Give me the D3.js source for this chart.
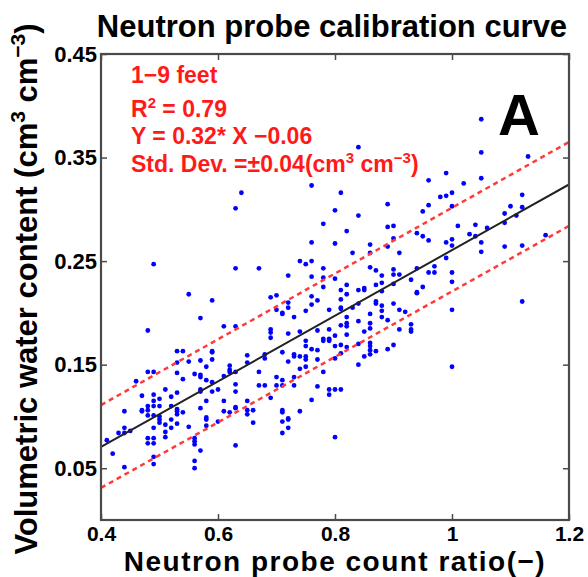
<!DOCTYPE html>
<html><head><meta charset="utf-8">
<script src="https://cdn.jsdelivr.net/npm/d3@7"></script>
<style>
html,body{margin:0;padding:0;background:#fff;}
svg{display:block;font-family:"Liberation Sans",Arial,Helvetica,sans-serif;font-weight:bold;}
</style></head>
<body>
<svg id="chart" width="588" height="577"></svg>
<script>
// ---- data ----
const xTicks = [0.4, 0.6, 0.8, 1.0, 1.2];
const xTickLabels = ["0.4", "0.6", "0.8", "1", "1.2"];
const yTicks = [0.05, 0.15, 0.25, 0.35, 0.45];
const yTickLabels = ["0.05", "0.15", "0.25", "0.35", "0.45"];
const fitX = [0.4, 1.2];
const fitY = [0.0705, 0.324];
const upperY = [0.111, 0.365];
const lowerY = [0.031, 0.284];
const annotations = ["1\u22129 feet", "R2 = 0.79", "Y = 0.32* X \u22120.06", "Std. Dev. =\u00b10.04(cm3 cm-3)"];
// [count ratio, volumetric water content]
const samples = [
[0.64,0.316],[0.63,0.301],[0.76,0.323],[0.81,0.316],[0.80,0.299],[0.78,0.286],[0.76,0.268],[0.80,0.267],
[0.49,0.247],[0.63,0.243],[0.67,0.243],[0.74,0.250],[0.75,0.247],[0.76,0.250],[0.72,0.236],[0.76,0.235],
[0.78,0.243],[0.78,0.234],[0.80,0.233],[0.78,0.225],[0.55,0.218],[0.59,0.212],[0.69,0.215],[0.70,0.217],
[0.76,0.216],[0.77,0.212],[0.72,0.210],[0.70,0.203],[0.72,0.205],[0.71,0.200],[0.71,0.199],[0.76,0.208],
[0.75,0.202],[0.79,0.203],[0.81,0.213],[0.81,0.205],[0.73,0.196],[0.57,0.195],[0.61,0.187],[0.63,0.187],
[0.48,0.183],[0.69,0.184],
[0.69,0.181],[0.69,0.176],[0.72,0.180],[0.74,0.182],[0.77,0.183],[0.78,0.175],[0.79,0.175],[0.79,0.173],
[0.78,0.173],[0.79,0.184],[0.75,0.173],[0.75,0.168],[0.76,0.165],[0.77,0.164],[0.80,0.168],[0.71,0.162],
[0.73,0.160],[0.73,0.158],[0.74,0.158],[0.75,0.158],[0.75,0.155],[0.72,0.153],[0.74,0.146],[0.75,0.148],
[0.77,0.155],[0.78,0.143],[0.68,0.160],[0.68,0.156],[0.67,0.143],[0.65,0.159],[0.65,0.152],[0.62,0.149],
[0.62,0.145],[0.62,0.143],[0.61,0.139],[0.63,0.143],[0.63,0.131],[0.63,0.124],[0.63,0.109],[0.65,0.115],
[0.67,0.130],[0.68,0.130],[0.69,0.118],[0.70,0.138],[0.70,0.130],[0.71,0.135],[0.71,0.130],[0.73,0.138],
[0.73,0.130],[0.77,0.129],[0.79,0.126],[0.79,0.121],[0.80,0.126],[0.81,0.126],[0.76,0.116],[0.74,0.105],
[0.71,0.106],[0.71,0.104],[0.72,0.098],[0.72,0.097],[0.72,0.089],[0.71,0.095],[0.71,0.084],[0.66,0.106],
[0.66,0.094],[0.65,0.106],[0.65,0.102],[0.63,0.108],[0.62,0.104],[0.61,0.115],[0.61,0.105],[0.60,0.095],
[0.59,0.133],[0.59,0.124],[0.60,0.126],[0.58,0.135],[0.58,0.115],[0.58,0.099],[0.58,0.097],[0.58,0.091],
[0.57,0.154],[0.57,0.140],[0.57,0.138],[0.57,0.126],[0.57,0.124],[0.57,0.108],[0.57,0.067],[0.59,0.163],
[0.59,0.162],[0.59,0.155],[0.58,0.148],[0.56,0.141],[0.55,0.153],[0.55,0.090],[0.54,0.163],[0.54,0.136],
[0.53,0.163],[0.53,0.152],[0.53,0.142],[0.53,0.123],[0.53,0.107],[0.53,0.105],[0.53,0.102],[0.53,0.093],
[0.54,0.104],[0.52,0.119],[0.52,0.110],[0.52,0.097],[0.52,0.089],[0.51,0.126],[0.51,0.092],[0.51,0.085],
[0.51,0.080],[0.50,0.117],[0.50,0.110],[0.50,0.100],[0.50,0.097],[0.50,0.094],[0.49,0.143],[0.49,0.121],
[0.49,0.115],[0.49,0.110],[0.49,0.101],[0.49,0.089],[0.49,0.079],[0.49,0.074],[0.49,0.061],[0.49,0.054],
[0.48,0.143],[0.48,0.110],[0.48,0.106],[0.48,0.101],[0.48,0.079],[0.48,0.074],[0.47,0.120],[0.47,0.106],
[0.47,0.105],[0.46,0.134],[0.44,0.105],[0.44,0.089],[0.44,0.084],[0.44,0.051],[0.43,0.084],[0.45,0.086],
[0.41,0.077],[0.42,0.064],[0.56,0.079],[0.56,0.076],[0.56,0.073],[0.56,0.057],[0.56,0.050],[0.63,0.072],
[0.80,0.080],
[1.05,0.387],[1.05,0.355],[1.05,0.330],[0.84,0.360],[1.13,0.351],[0.99,0.335],[0.96,0.328],[1.02,0.325],
[0.98,0.312],[0.99,0.313],[1.00,0.316],[1.12,0.314],[0.84,0.294],[0.89,0.305],[0.95,0.298],[0.96,0.304],
[1.00,0.303],[1.10,0.303],[1.12,0.302],[1.09,0.296],[1.11,0.294],[0.89,0.283],[0.90,0.284],[1.01,0.284],
[1.04,0.285],[1.06,0.282],[1.09,0.287],
[0.82,0.279],[0.86,0.266],[0.89,0.264],[0.90,0.272],[0.94,0.277],[0.95,0.274],[0.96,0.270],[0.99,0.268],
[1.00,0.271],[1.00,0.265],[1.03,0.276],[1.04,0.274],[1.05,0.268],[1.05,0.259],[1.09,0.264],[1.12,0.265],
[1.16,0.275],[0.83,0.258],[0.86,0.258],[0.91,0.258],[0.99,0.253],[0.86,0.244],[0.87,0.241],[0.88,0.236],
[0.90,0.242],[0.90,0.237],[0.91,0.237],[0.94,0.243],[0.96,0.239],[0.97,0.245],[0.97,0.239],[1.00,0.239],
[1.00,0.230],[1.00,0.203],[0.82,0.227],[0.82,0.218],[0.81,0.222],[0.84,0.222],[0.85,0.224],[0.85,0.222],
[0.87,0.227],[0.88,0.229],[0.88,0.221],[0.90,0.228],[0.93,0.232],[0.94,0.220],[0.94,0.219],[0.95,0.225],
[0.81,0.204],[0.83,0.205],[0.84,0.209],[0.87,0.211],[0.87,0.209],[0.88,0.207],[0.88,0.202],[0.88,0.196],
[0.90,0.209],[0.91,0.203],[0.92,0.201],[0.86,0.199],[0.86,0.190],[0.86,0.185],[0.84,0.192],[0.85,0.182],
[0.89,0.193],[0.91,0.184],[0.93,0.189],[0.93,0.184],[0.93,0.182],[1.12,0.211],[0.82,0.196],[0.82,0.190],
[0.82,0.187],[0.82,0.179],[0.81,0.188],[0.80,0.178],[0.79,0.174],[0.81,0.169],[0.82,0.167],[0.84,0.170],
[0.86,0.171],[0.86,0.168],[0.87,0.163],[0.86,0.164],[0.86,0.160],[0.89,0.165],[0.90,0.169],[0.81,0.161],
[0.80,0.156],[0.85,0.158],[0.84,0.150],[1.00,0.148]
];

// ---- layout ----
const svg = d3.select("#chart");
const L = 101, R = 569, T = 54, B = 520;
const x = d3.scaleLinear().domain([0.4, 1.2]).range([L, R]);
const y = d3.scaleLinear().domain([0, 0.45]).range([B, T]);
const frameColor = "#4a4a4a";

svg.append("clipPath").attr("id", "clip").append("rect")
  .attr("x", L).attr("y", T).attr("width", R - L).attr("height", B - T);

const plot = svg.append("g").attr("clip-path", "url(#clip)");

// points
plot.append("g").selectAll("circle").data(samples).join("circle")
  .attr("cx", d => x(d[0])).attr("cy", d => y(d[1])).attr("r", 2.4)
  .attr("fill", "#0000ff");

const lineGen = d3.line().x(d => x(d[0])).y(d => y(d[1]));
const mk = ys => fitX.map((v, i) => [v, ys[i]]);
plot.append("path").attr("d", lineGen(mk(upperY))).attr("fill", "none")
  .attr("stroke", "#ff3a3a").attr("stroke-width", 2.5).attr("stroke-dasharray", "5,4");
plot.append("path").attr("d", lineGen(mk(lowerY))).attr("fill", "none")
  .attr("stroke", "#ff3a3a").attr("stroke-width", 2.5).attr("stroke-dasharray", "5,4");
plot.append("path").attr("d", lineGen(mk(fitY))).attr("fill", "none")
  .attr("stroke", "#222").attr("stroke-width", 2);

// axes (inward ticks, mirrored)
const fmtX = (d, i) => xTickLabels[i];
const fmtY = (d, i) => yTickLabels[i];
const tickLen = 6;
const gx = svg.append("g").attr("transform", `translate(0,${B})`)
  .call(d3.axisBottom(x).tickValues(xTicks).tickFormat(fmtX).tickSizeInner(-tickLen).tickSizeOuter(0).tickPadding(6.5));
const gy = svg.append("g").attr("transform", `translate(${L},0)`)
  .call(d3.axisLeft(y).tickValues(yTicks).tickFormat(fmtY).tickSizeInner(-tickLen).tickSizeOuter(0).tickPadding(4));
const gxt = svg.append("g").attr("transform", `translate(0,${T})`)
  .call(d3.axisTop(x).tickValues(xTicks).tickFormat("").tickSizeInner(-tickLen).tickSizeOuter(0));
const gyr = svg.append("g").attr("transform", `translate(${R},0)`)
  .call(d3.axisRight(y).tickValues(yTicks).tickFormat("").tickSizeInner(-tickLen).tickSizeOuter(0));
[gx, gy, gxt, gyr].forEach(g => {
  g.select(".domain").remove();
  g.selectAll("line").attr("stroke", frameColor).attr("stroke-width", 1.5);
  g.selectAll("text").attr("fill", "#000").attr("font-size", 22).attr("font-weight", "bold")
    .attr("font-family", "'Liberation Sans',Arial,sans-serif");
});
gx.selectAll("text").attr("font-size", 21).attr("dy", "0.68em");
svg.append("rect").attr("x", L).attr("y", T).attr("width", R - L).attr("height", B - T)
  .attr("fill", "none").attr("stroke", frameColor).attr("stroke-width", 2.2);

// title
svg.append("text").attr("x", 332).attr("y", 37).attr("text-anchor", "middle")
  .attr("font-size", 31).attr("fill", "#000").text("Neutron probe calibration curve");

// x label
svg.append("text").attr("x", 335).attr("y", 571).attr("text-anchor", "middle")
  .attr("font-size", 28).attr("letter-spacing", 1.5).attr("fill", "#000")
  .text("Neutron probe count ratio(\u2212)");

// y label
const yl = svg.append("text").attr("transform", "translate(37,289) rotate(-90)")
  .attr("text-anchor", "middle").attr("font-size", 31).attr("fill", "#000");
yl.append("tspan").text("Volumetric water content (cm");
yl.append("tspan").attr("dy", -12).attr("font-size", 21).text("3");
yl.append("tspan").attr("dy", 12).text(" cm");
yl.append("tspan").attr("dy", -12).attr("font-size", 21).text("\u22123");
yl.append("tspan").attr("dy", 12).text(")");

// annotations
const red = "#ff1a1a";
const ax = 131, fs = 23, sfs = 15;
svg.append("text").attr("x", ax).attr("y", 83).attr("font-size", fs).attr("fill", red).text(annotations[0]);
const t2 = svg.append("text").attr("x", ax).attr("y", 117).attr("font-size", fs).attr("fill", red);
t2.append("tspan").text("R");
t2.append("tspan").attr("dy", -9).attr("font-size", sfs).text("2");
t2.append("tspan").attr("dy", 9).text(" = 0.79");
svg.append("text").attr("x", ax).attr("y", 144).attr("font-size", fs).attr("fill", red).text(annotations[2]);
const t4 = svg.append("text").attr("x", ax).attr("y", 172).attr("font-size", fs).attr("fill", red);
t4.append("tspan").text("Std. Dev. =\u00b10.04(cm");
t4.append("tspan").attr("dy", -9).attr("font-size", sfs).text("3");
t4.append("tspan").attr("dy", 9).text(" cm");
t4.append("tspan").attr("dy", -9).attr("font-size", sfs).text("\u22123");
t4.append("tspan").attr("dy", 9).text(")");

// panel letter
svg.append("text").attr("x", 519).attr("y", 135).attr("text-anchor", "middle")
  .attr("font-size", 58).attr("fill", "#000").text("A");
</script>
</body></html>
